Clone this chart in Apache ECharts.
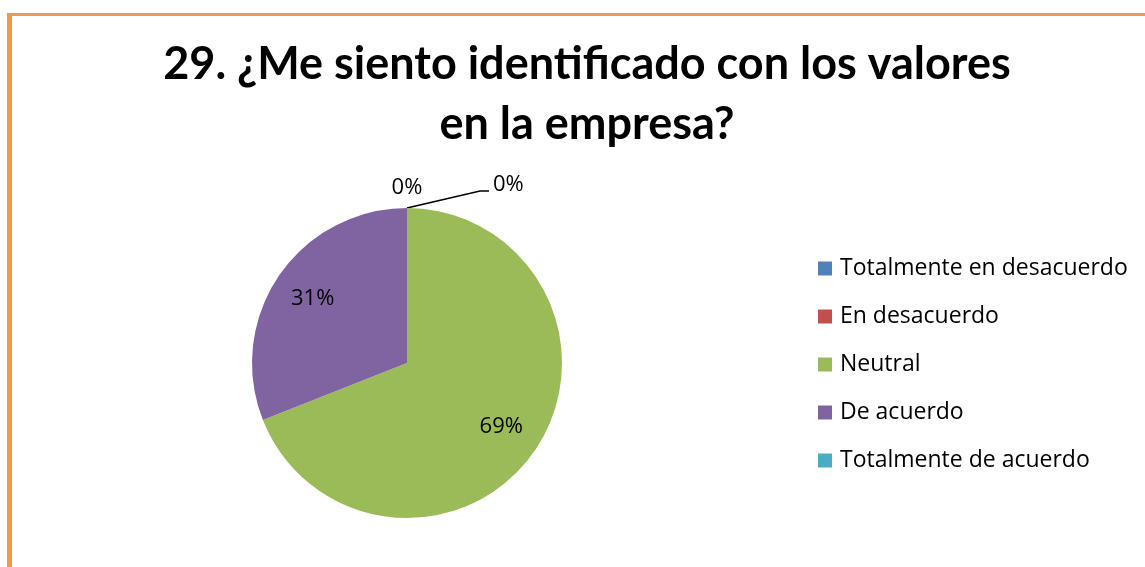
<!DOCTYPE html>
<html>
<head>
<meta charset="utf-8">
<script src="https://cdn.jsdelivr.net/npm/echarts@6/dist/echarts.min.js"></script>
<style>
  html, body { margin: 0; padding: 0; background: #fff; }
  #frame {
    position: absolute; left: 7px; top: 13px; width: 1200px; height: 600px;
    border-top: 3px solid #F79646; border-left: 5px solid #F79646; box-sizing: border-box;
  }
  #chart { position: absolute; left: 0; top: 0; width: 1145px; height: 567px; }
</style>
</head>
<body>
<div id="frame"></div>
<div id="chart"></div>
<script>
// categorias y valores (%)
const categories = ['Totalmente en desacuerdo', 'En desacuerdo', 'Neutral', 'De acuerdo', 'Totalmente de acuerdo']
const values = [0, 0, 69, 31, 0]
const colors = ['#4F81BD', '#C0504D', '#9BBB59', '#8064A2', '#4BACC6']

const PIE_CX = 407
const PIE_CY = 363
const PIE_R = 155

const labelFont = { fontFamily: 'Open Sans', fontSize: 22, color: '#000' }

const mainData = categories.map((name, i) => {
  const item = { name: name, value: values[i], itemStyle: { color: colors[i] } }
  // las etiquetas 0% van por fuera
  if (i === 1) {
    item.label = { show: true, position: 'outside' }
    item.labelLine = { show: true, length: 6, length2: 8 }
  } else if (i === 4) {
    item.label = { show: true, position: 'outside' }
    item.labelLine = { show: false }
  }
  return item
})

const innerLabelData = categories.map((name, i) => ({
  name: name,
  value: values[i],
  label: { show: values[i] > 0 }
}))

const myChart = echarts.init(document.getElementById('chart'))
myChart.setOption({
  animation: false,
  color: colors,
  title: {
    text: '29. ¿Me siento identificado con los valores\nen la empresa?',
    left: 582,
    top: 29,
    textAlign: 'center',
    textStyle: {
      fontFamily: 'Lato',
      fontWeight: 'bold',
      fontSize: 45,
      lineHeight: 60,
      color: '#000'
    }
  },
  legend: {
    orient: 'vertical',
    left: 818,
    top: 257,
    padding: 0,
    itemWidth: 14,
    itemHeight: 14,
    itemGap: 25,
    icon: 'rect',
    selectedMode: false,
    data: categories,
    textStyle: {
      fontFamily: 'Open Sans',
      fontSize: 23,
      lineHeight: 23,
      color: '#000',
      padding: [0, 0, 0, 3]
    }
  },
  series: [
    {
      name: 'main',
      type: 'pie',
      center: [PIE_CX, PIE_CY],
      radius: [0, PIE_R],
      startAngle: 90,
      clockwise: true,
      avoidLabelOverlap: false,
      percentPrecision: 0,
      label: Object.assign({ show: false, formatter: '{d}%' }, labelFont),
      labelLine: { show: false, lineStyle: { color: '#000', width: 1.5 } },
      labelLayout: function (params) {
        const topY = PIE_CY - PIE_R
        if (params.dataIndex === 1) {
          return {
            x: PIE_CX + 86,
            y: topY - 23,
            align: 'left',
            verticalAlign: 'middle',
            labelLinePoints: [[PIE_CX, topY], [PIE_CX + 73, topY - 17], [PIE_CX + 82, topY - 17]]
          }
        }
        if (params.dataIndex === 4) {
          return { x: PIE_CX, y: topY - 20, align: 'center', verticalAlign: 'middle' }
        }
      },
      emphasis: { disabled: true },
      data: mainData
    },
    {
      // capa transparente solo para ubicar las etiquetas internas
      name: 'labels',
      type: 'pie',
      center: [PIE_CX, PIE_CY],
      radius: [0, 222],
      startAngle: 90,
      clockwise: true,
      silent: true,
      percentPrecision: 0,
      itemStyle: { color: 'rgba(0,0,0,0)' },
      label: Object.assign({ position: 'inside', formatter: '{d}%' }, labelFont),
      labelLine: { show: false },
      emphasis: { disabled: true },
      data: innerLabelData
    }
  ]
})
</script>
</body>
</html>
